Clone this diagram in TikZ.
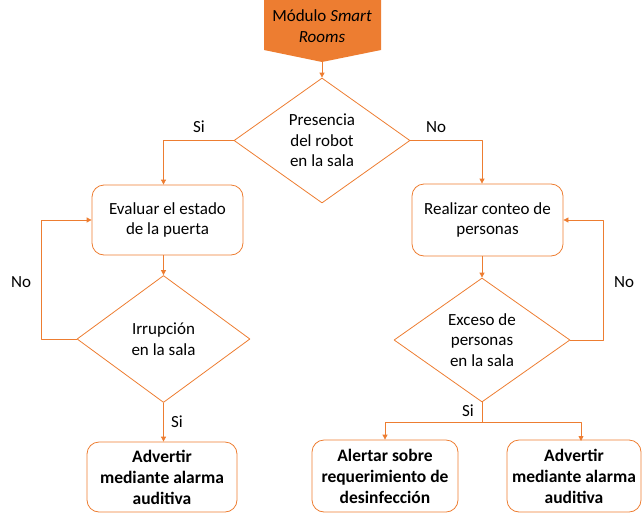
\documentclass[tikz,border=0pt]{standalone}
\usepackage{fontspec}
\setmainfont{Carlito}
\usetikzlibrary{arrows.meta}
\usetikzlibrary{shapes.geometric}
\definecolor{naranja}{HTML}{ED7D31}

\tikzset{
  flecha/.style={draw=naranja, line width=0.8pt, -{Triangle[length=5pt, width=5pt]}},
  caja/.style={draw=naranja, line width=0.8pt, rounded corners=12pt, align=center, inner sep=0pt, font=\fontsize{17}{20.5}\selectfont},
  decision/.style={diamond, draw=naranja, line width=0.8pt, align=center, inner sep=0pt, font=\fontsize{17}{20.5}\selectfont},
  etiqueta/.style={font=\fontsize{17}{20.5}\selectfont}
}

\begin{document}
\begin{tikzpicture}[line cap=round,line join=round, x=1pt, y=-1pt]
\useasboundingbox (0,0) rectangle (644,514);
\fill[color=naranja] (264,0) -- (381,0) -- (381,50) -- (322,62) -- (264,50) -- cycle;
\node[etiqueta, align=center] (modulo) at (322,26) {Módulo \textit{Smart}\\\textit{Rooms}};
\coordinate (punta) at (322,62);
\node[decision, minimum width=176, minimum height=125] (robot) at (322,140.5) {Presencia\\del robot\\en la sala};
\node[caja, minimum width=151, minimum height=70] (puerta) at (167.5,220) {Evaluar el estado\\de la puerta};
\node[decision, minimum width=173, minimum height=127] (irrupcion) at (163.5,339) {Irrupción\\en la sala};
\node[caja, minimum width=150, minimum height=70, font=\fontsize{17.5}{21}\selectfont\bfseries] (alarmaA) at (162,477) {Advertir\\mediante alarma\\auditiva};
\node[caja, minimum width=151, minimum height=72] (conteo) at (487.5,220) {Realizar conteo de\\personas};
\node[decision, minimum width=176, minimum height=124] (exceso) at (482,340) {Exceso de\\personas\\en la sala};
\node[caja, minimum width=146, minimum height=72, font=\fontsize{17.5}{21}\selectfont\bfseries] (alertar) at (385,476) {Alertar sobre\\requerimiento de\\desinfección};
\node[caja, minimum width=134, minimum height=72, font=\fontsize{17.5}{21}\selectfont\bfseries] (alarmaB) at (574,476) {Advertir\\mediante alarma\\auditiva};
\coordinate (rama) at (482,422);
% conectores
\draw[flecha] (punta) -- (robot.north);
\draw[flecha] (robot.west) -| (puerta.north -| irrupcion.north);
\draw[flecha] (robot.east) -| (conteo.north -| exceso.north);
\draw[flecha] (puerta.south -| irrupcion.north) -- (irrupcion.north);
\draw[flecha] (irrupcion.west) -- (41,339) |- (puerta.west);
\draw[flecha] (irrupcion.south) -- (alarmaA.north -| irrupcion.south);
\draw[flecha] (conteo.south -| exceso.north) -- (exceso.north);
\draw[flecha] (exceso.east) -- (603,340) |- (conteo.east);
\draw[draw=naranja, line width=0.8pt] (exceso.south) -- (rama);
\draw[flecha] (rama) -| (alertar.north);
\draw[flecha] (rama) -| (581,441);
% etiquetas
\node[etiqueta] (si1) at (199,127) {Si};
\node[etiqueta] (no1) at (436,127) {No};
\node[etiqueta] (no2) at (21,282) {No};
\node[etiqueta] (si2) at (177,422) {Si};
\node[etiqueta] (no3) at (624,282) {No};
\node[etiqueta] (si3) at (468,411) {Si};
\end{tikzpicture}
\end{document}
